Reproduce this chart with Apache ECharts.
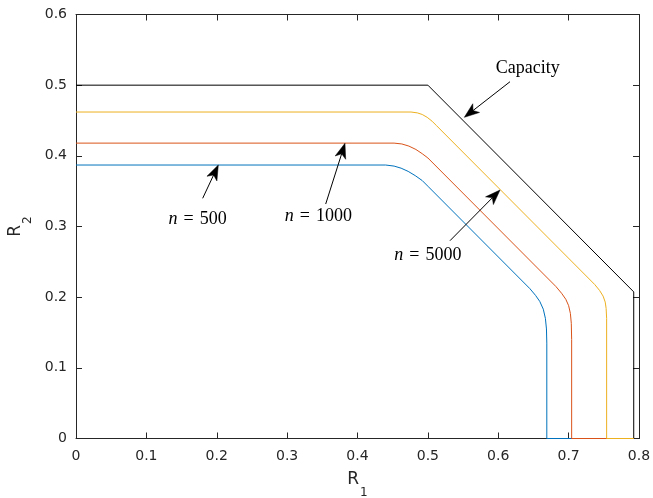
<!DOCTYPE html>
<html>
<head>
<meta charset="utf-8">
<script src="https://cdn.jsdelivr.net/npm/echarts@6/dist/echarts.min.js"></script>
<style>html,body{margin:0;padding:0;background:#fff;}#c{width:653px;height:498px;}</style>
</head>
<body>
<div id="c"></div>
<script>
// ---- data ----
const capacity = [[0,0.5],[0.5,0.5],[0.7925,0.2075],[0.7925,0]];
const n500 = [[0,0.387],[0.44,0.387],[0.452,0.3855],[0.462,0.3825],[0.472,0.378],[0.482,0.372],[0.492,0.365],[0.50,0.357],[0.645,0.212],[0.653,0.2025],[0.659,0.194],[0.664,0.183],[0.667,0.170],[0.6685,0.155],[0.669,0.135],[0.669,0],[0.7925,0]];
const n1000 = [[0,0.418],[0.452,0.418],[0.463,0.4168],[0.473,0.4138],[0.483,0.409],[0.492,0.403],[0.50,0.397],[0.682,0.215],[0.690,0.2055],[0.696,0.197],[0.700,0.188],[0.7025,0.177],[0.7038,0.163],[0.7043,0.14],[0.7043,0],[0.7925,0]];
const n5000 = [[0,0.462],[0.476,0.462],[0.485,0.4608],[0.492,0.4585],[0.499,0.4545],[0.506,0.449],[0.512,0.443],[0.737,0.218],[0.744,0.2095],[0.749,0.2015],[0.752,0.193],[0.7533,0.184],[0.754,0.17],[0.754,0],[0.7925,0]];
const annotationTexts = ['Capacity', '{i|n}\u2004=\u2004500', '{i|n}\u2004=\u20041000', '{i|n}\u2004=\u20045000'];
const annotationPos = [[0.6418,0.5243],[0.1729,0.3106],[0.3443,0.3148],[0.4999,0.2597]];
const arrowTails = [[0.6167,0.5049],[0.180,0.3399],[0.3548,0.3318],[0.5314,0.2799]];
const arrowTips = [[0.5518,0.4545],[0.2022,0.387],[0.3822,0.4177],[0.6025,0.3516]];
const xMin = 0, xMax = 0.8, xStep = 0.1;
const yMin = 0, yMax = 0.6, yStep = 0.1;

// ---- styling ----
const axisColor = '#262626';
const tickFont = 'DejaVu Sans';
const serif = 'Liberation Serif';
const headLen = 15, headHalfW = 5.5, headNotch = 4;

function axisBase(extra) {
  return Object.assign({
    type: 'value',
    splitLine: {show: false},
    axisLine: {show: true, onZero: false, lineStyle: {color: axisColor, width: 1}},
    axisTick: {show: true, inside: true, length: 6, lineStyle: {color: axisColor, width: 1}},
  }, extra);
}
const nameRich = {
  r: {fontFamily: tickFont, fontSize: 17, color: axisColor, lineHeight: 18, verticalAlign: 'top'},
  s: {fontFamily: tickFont, fontSize: 12, color: axisColor, lineHeight: 12, verticalAlign: 'top', padding: [15, 0, 0, 1]}
};

const annotationData = annotationPos.map((p, i) => [p[0], p[1], arrowTails[i][0], arrowTails[i][1], arrowTips[i][0], arrowTips[i][1], i]);

function renderAnnotation(params, api) {
  const i = api.value(6);
  const txt = api.coord([api.value(0), api.value(1)]);
  const tail = api.coord([api.value(2), api.value(3)]);
  const tip = api.coord([api.value(4), api.value(5)]);
  const dx = tip[0] - tail[0], dy = tip[1] - tail[1];
  const len = Math.sqrt(dx * dx + dy * dy);
  const ux = dx / len, uy = dy / len, px = -uy, py = ux;
  const bx = tip[0] - ux * headLen, by = tip[1] - uy * headLen;
  const nx = tip[0] - ux * (headLen - headNotch), ny = tip[1] - uy * (headLen - headNotch);
  return {
    type: 'group',
    children: [
      {type: 'line', shape: {x1: tail[0], y1: tail[1], x2: nx, y2: ny},
        style: {stroke: '#000', lineWidth: 1}},
      {type: 'polygon', shape: {points: [tip, [bx + px * headHalfW, by + py * headHalfW], [nx, ny], [bx - px * headHalfW, by - py * headHalfW]]},
        style: {fill: '#000', stroke: '#000', lineWidth: 0.5}},
      {type: 'text', x: txt[0], y: txt[1],
        style: {text: annotationTexts[i], fill: '#000', fontFamily: serif, fontSize: 18,
          align: 'center', verticalAlign: 'middle',
          rich: {i: {fontFamily: serif, fontStyle: 'italic', fontSize: 18, fill: '#000'}}}}
    ]
  };
}

const chart = echarts.init(document.getElementById('c'), null, {renderer: 'canvas'});
chart.setOption({
  animation: false,
  backgroundColor: '#fff',
  grid: {left: 76, right: 14, top: 14.5, bottom: 59.5, containLabel: false, outerBoundsMode: 'none'},
  xAxis: [
    axisBase({min: xMin, max: xMax, interval: xStep, position: 'bottom',
      axisLabel: {color: axisColor, fontFamily: tickFont, fontSize: 14, margin: 11},
      name: '{r|R}{s|1}', nameLocation: 'middle', nameGap: 33,
      nameTextStyle: {rich: nameRich}}),
    axisBase({min: xMin, max: xMax, interval: xStep, position: 'top', axisLabel: {show: false}})
  ],
  yAxis: [
    axisBase({min: yMin, max: yMax, interval: yStep, position: 'left',
      axisLabel: {color: axisColor, fontFamily: tickFont, fontSize: 14, margin: 9},
      name: '{r|R}{s|2}', nameLocation: 'middle', nameGap: 28, nameRotate: 90,
      nameTextStyle: {rich: nameRich}}),
    axisBase({min: yMin, max: yMax, interval: yStep, position: 'right', axisLabel: {show: false}})
  ],
  series: [
    {type: 'line', name: 'Capacity', data: capacity, showSymbol: false, symbol: 'none',
      lineStyle: {color: '#000000', width: 1}, silent: true, z: 2},
    {type: 'line', name: 'n=500', data: n500, showSymbol: false, symbol: 'none',
      lineStyle: {color: '#0072BD', width: 1}, silent: true, z: 2},
    {type: 'line', name: 'n=1000', data: n1000, showSymbol: false, symbol: 'none',
      lineStyle: {color: '#D95319', width: 1}, silent: true, z: 2},
    {type: 'line', name: 'n=5000', data: n5000, showSymbol: false, symbol: 'none',
      lineStyle: {color: '#EDB120', width: 1}, silent: true, z: 2},
    {type: 'custom', name: 'annotations', data: annotationData, renderItem: renderAnnotation,
      silent: true, z: 5, clip: false,
      encode: {x: 0, y: 1}}
  ]
});
</script>
</body>
</html>
